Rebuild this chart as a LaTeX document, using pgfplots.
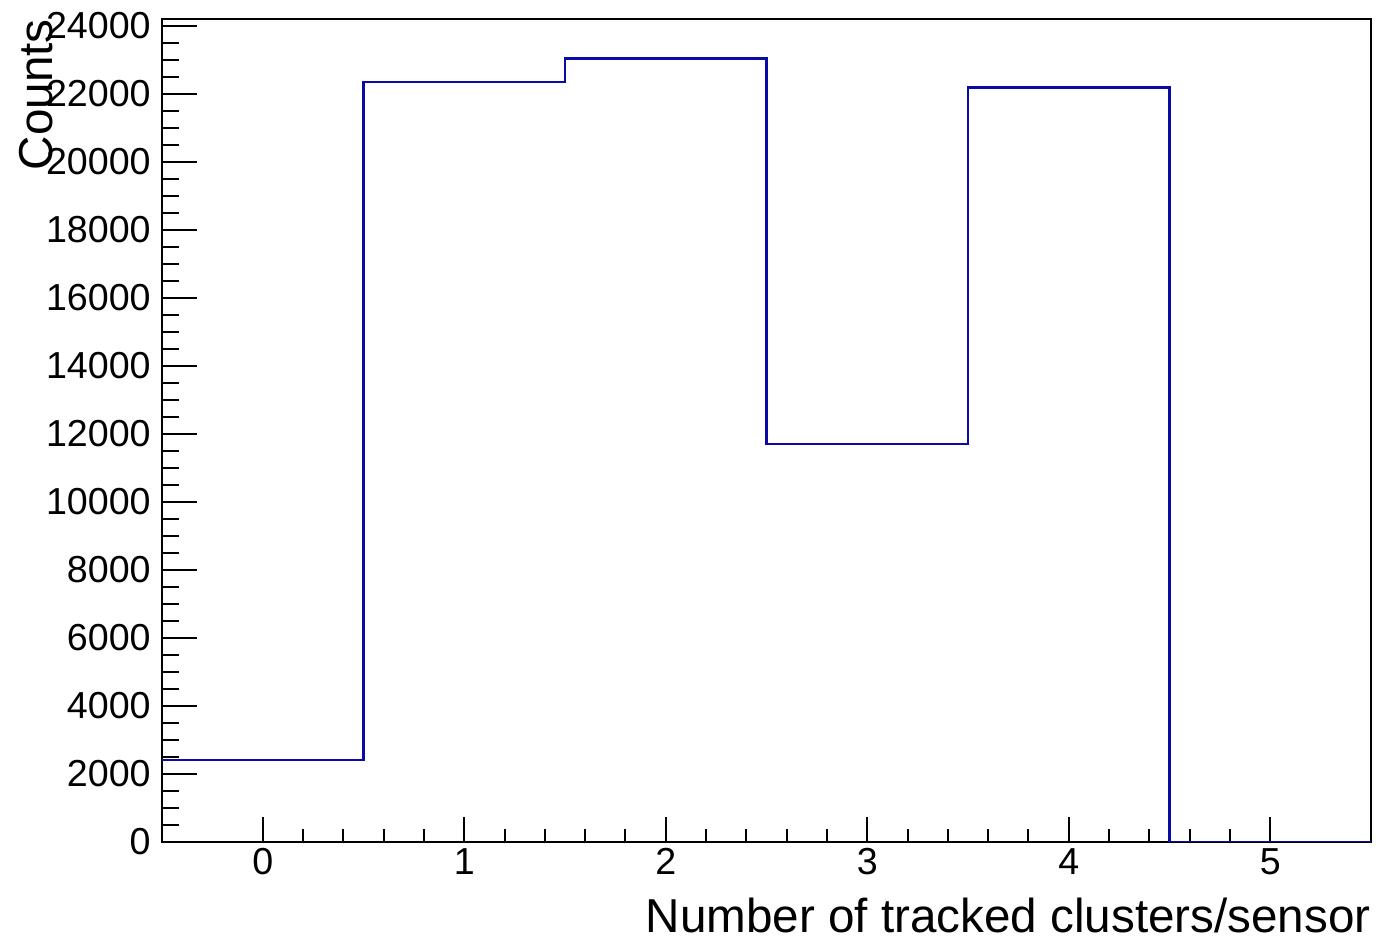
\documentclass[border=0pt]{standalone}
\usepackage{fontspec}
\setmainfont{Liberation Sans}
\usepackage{pgfplots}
\pgfplotsset{compat=1.18}
\usetikzlibrary{calc}
\definecolor{rootblue}{RGB}{10,10,165}
\begin{document}
\begin{tikzpicture}
\begin{axis}[
  name=ax,
  scale only axis,
  width=604.5pt, height=411.5pt,
  xmin=-0.5, xmax=5.5,
  ymin=0, ymax=24200,
  axis line style={line width=1pt, black},
  tick pos=left,
  tick align=inside,
  xtick={0,1,2,3,4,5},
  minor x tick num=4,
  ytick={0,2000,...,24000},
  minor y tick num=3,
  x tick style={line width=1pt, black, /pgfplots/major tick length=12.5pt, /pgfplots/minor tick length=6.3pt},
  y tick style={line width=1pt, black, /pgfplots/major tick length=17.5pt, /pgfplots/minor tick length=8.7pt},
  scaled y ticks=false,
  /pgf/number format/assume math mode=true,
  yticklabel={\pgfmathprintnumber[fixed,precision=0,1000 sep={}]{\tick}},
  ticklabel style={font=\fontsize{18.8}{20}\selectfont},
  yticklabel style={anchor=east, inner sep=0pt, xshift=-5.5pt},
  xticklabel style={anchor=north, inner sep=0pt, yshift=-3pt},
  xlabel={Number of tracked clusters/sensor},
  ylabel={Counts},
  label style={font=\fontsize{23.8}{26}\selectfont},
  xlabel style={at={(axis description cs:1,-0.1100)}, anchor=base east, inner sep=0pt},
  ylabel style={at={(axis description cs:-0.0902,1)}, anchor=base east, inner sep=0pt, rotate=0},
]
\addplot[const plot, color=rootblue, line width=1.1pt] coordinates {
  (-0.5,2412) (0.5,22341) (1.5,23038) (2.5,11700) (3.5,22185) (4.5,0) (5.5,0)
};
\end{axis}
\pgfresetboundingbox
\path[use as bounding box] ($(ax.south west)+(-81pt,-48.5pt)$) rectangle ($(ax.north east)+(3.5pt,9.5pt)$);
\end{tikzpicture}
\end{document}
